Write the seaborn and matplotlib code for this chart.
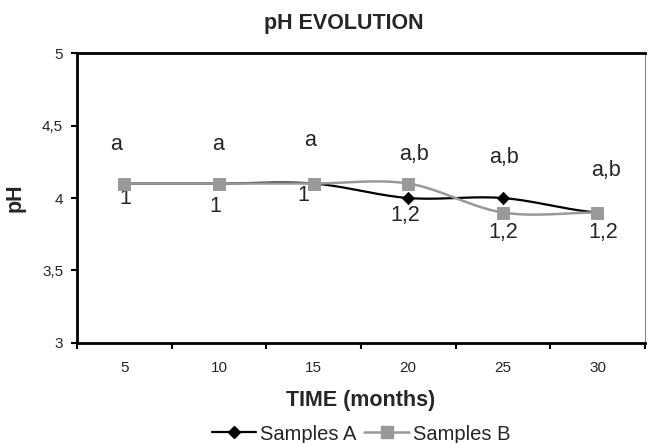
import matplotlib
matplotlib.use("Agg")
import matplotlib.pyplot as plt
from matplotlib.lines import Line2D
import numpy as np
import pandas as pd
import seaborn as sns

# Chart data
months = [5, 10, 15, 20, 25, 30]
ph_a = [4.1, 4.1, 4.1, 4.0, 4.0, 3.9]
ph_b = [4.1, 4.1, 4.1, 4.1, 3.9, 3.9]
upper_labels = ["a", "a", "a", "a,b", "a,b", "a,b"]
lower_labels = ["1", "1", "1", "1,2", "1,2", "1,2"]
y_ticks = [3, 3.5, 4, 4.5, 5]
y_tick_labels = ["3", "3,5", "4", "4,5", "5"]

# where the letter labels sit (layout only)
upper_pos = [(-0.09, 4.37), (-0.01, 4.37), (-0.04, 4.40), (0.06, 4.30), (0.01, 4.28), (0.09, 4.19)]
lower_pos = [(0.01, 4.00), (-0.04, 3.94), (-0.11, 4.02), (-0.03, 3.88), (0.0, 3.76), (0.06, 3.76)]


def smooth(xs, ys, n=30):
    # Catmull-Rom curve through the points, like Excel's smoothed line
    xs = np.asarray(xs, float)
    ys = np.asarray(ys, float)
    px = np.concatenate([[2 * xs[0] - xs[1]], xs, [2 * xs[-1] - xs[-2]]])
    py = np.concatenate([[ys[0]], ys, [ys[-1]]])
    out_x, out_y = [], []
    t = np.linspace(0, 1, n)
    for i in range(1, len(px) - 2):
        for arr, res in ((px, out_x), (py, out_y)):
            p0, p1, p2, p3 = arr[i - 1], arr[i], arr[i + 1], arr[i + 2]
            res.extend(0.5 * ((2 * p1) + (-p0 + p2) * t
                              + (2 * p0 - 5 * p1 + 4 * p2 - p3) * t ** 2
                              + (-p0 + 3 * p1 - 3 * p2 + p3) * t ** 3))
    return np.array(out_x), np.array(out_y)


sns.set_style("white")
plt.rcParams["font.family"] = ["Liberation Sans", "DejaVu Sans"]

fig = plt.figure(figsize=(6.48, 4.43), dpi=100)
ax = fig.add_axes([0.119, 0.226, 0.876, 0.654])

idx = np.arange(len(months))
gray = "#999999"

cx, cy = smooth(idx, ph_a)
sns.lineplot(x=cx, y=cy, ax=ax, color="black", linewidth=1.6, sort=False, estimator=None)
cx, cy = smooth(idx, ph_b)
sns.lineplot(x=cx, y=cy, ax=ax, color=gray, linewidth=1.8, sort=False, estimator=None)

sns.scatterplot(x=idx, y=ph_a, ax=ax, marker="D", s=40, color="black", edgecolor="black", zorder=3)
sns.scatterplot(x=idx, y=ph_b, ax=ax, marker="s", s=70, color=gray, edgecolor=gray, zorder=4)

for i in idx:
    dx, yy = upper_pos[i]
    ax.text(i + dx, yy, upper_labels[i], ha="center", va="center", fontsize=15.5)
    dx, yy = lower_pos[i]
    ax.text(i + dx, yy, lower_labels[i], ha="center", va="center", fontsize=15.5)

ax.set_xlim(-0.5, len(months) - 0.5)
ax.set_ylim(3, 5)
ax.set_yticks(y_ticks)
ax.set_yticklabels(y_tick_labels, fontsize=11)
ax.set_xticks(idx)
ax.set_xticklabels([str(m) for m in months], fontsize=11)
ax.set_xticks(np.arange(len(months) + 1) - 0.5, minor=True)
ax.tick_params(axis="x", which="major", length=0, pad=13)
ax.tick_params(axis="x", which="minor", length=4, width=1.5, direction="out", color="black")
ax.tick_params(axis="y", length=4, width=1.5, direction="out", color="black", pad=6)
ax.xaxis.set_ticks_position("bottom")
ax.yaxis.set_ticks_position("left")

for side in ["top", "bottom", "left"]:
    ax.spines[side].set_color("black")
    ax.spines[side].set_linewidth(2)
ax.spines["right"].set_color("#888888")
ax.spines["right"].set_linewidth(0.8)

fig.text(0.53, 1 - 24 / 443, "pH EVOLUTION", ha="center", va="center",
         fontsize=15.5, fontweight="bold")
ax.set_xlabel("TIME (months)", fontsize=15.5, fontweight="bold", labelpad=11)
ax.set_ylabel("pH", fontsize=15.5, fontweight="bold", labelpad=12)

handles = [
    Line2D([], [], color="black", linewidth=1.6, marker="D", markersize=6),
    Line2D([], [], color=gray, linewidth=1.8, marker="s", markersize=8),
]
fig.legend(handles, ["Samples A", "Samples B"], loc="center", bbox_to_anchor=(0.557, 1 - 434 / 443),
           ncol=2, frameon=False, fontsize=14.5, handlelength=2.2, handletextpad=0.2,
           columnspacing=0.4)

fig.savefig("out.png", dpi=100)
